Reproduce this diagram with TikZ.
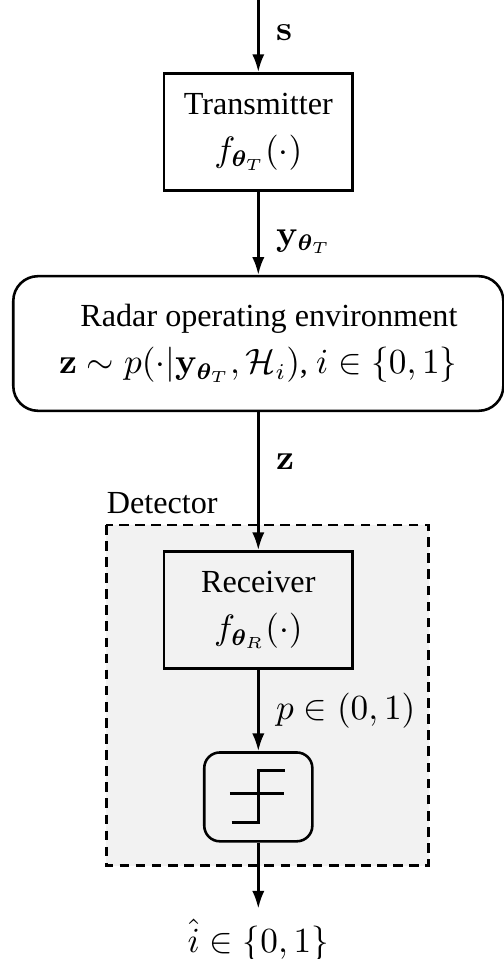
\documentclass[tikz,border=0pt]{standalone}
\usepackage{amsmath,amssymb}
\usepackage{bm}
\usepackage[no-math]{fontspec}
\setmainfont{Liberation Serif}[Scale=0.952]
\usetikzlibrary{arrows.meta,calc}

\begin{document}
\begin{tikzpicture}[>={Latex[length=5.5pt,width=3.8pt]},
                    font=\fontsize{10.5}{12.6}\selectfont,
                    block/.style={draw,thick,align=center,minimum width=2.06cm,minimum height=1.28cm},
                    envbox/.style={draw,thick,align=right,rounded corners=.27cm,minimum width=5.35cm,minimum height=1.47cm},
                    thresh/.style={draw,thick,rounded corners=.17cm,minimum width=1.18cm,minimum height=.97cm},
                    lbl/.style={right,xshift=2pt},
                    sig/.style={->,thick}]
                    \useasboundingbox (0,0) rectangle (5.50,-10.47);
                    % detector area
                    \draw[thick,densely dashed,fill=gray!10] (1.16,-5.73) rectangle (4.68,-9.45);
                    \node[anchor=south west,inner xsep=0pt] (detlbl) at (1.16,-5.73) {Detector};
                    % blocks
                    \coordinate (in) at (2.82,0);
                    \node[block] (tx) at (2.82,-1.44) {Transmitter\\[2pt] $f_{\bm{\theta}_T}(\cdot)$};
                    \node[envbox] (env) at (2.82,-3.75) {Radar operating environment\\[2pt] $\mathbf{z}\sim p(\cdot|\mathbf{y}_{\bm{\theta}_T},\mathcal{H}_i)$, $i\in\{0,1\}$};
                    \node[block] (rx) at (2.82,-6.66) {Receiver\\[2pt] $f_{\bm{\theta}_R}(\cdot)$};
                    \node[thresh] (thr) at (2.82,-8.70) {};
                    \draw[thick,shift={(thr.center)}] (-.31,.04) -- (.28,.04)
                        (-.29,-.28) -- (0,-.28) -- (0,.29) -- (.29,.29);
                    \coordinate (out) at (2.82,-9.92);
                    % signals
                    \draw[sig] (in) -- (tx) node[lbl,pos=.45] {$\mathbf{s}$};
                    \draw[sig] (tx) -- (env) node[lbl,pos=.6] {$\mathbf{y}_{\bm{\theta}_T}$};
                    \draw[sig] (env) -- (rx) node[lbl,pos=.36] {$\mathbf{z}$};
                    \draw[sig] (rx) -- (thr) node[lbl,pos=.5] {$p\in(0,1)$};
                    \draw[sig] (thr) -- (out);
                    \node[below] (ihat) at (out) {$\hat{i}\in\{0,1\}$};
\end{tikzpicture}
\end{document}
